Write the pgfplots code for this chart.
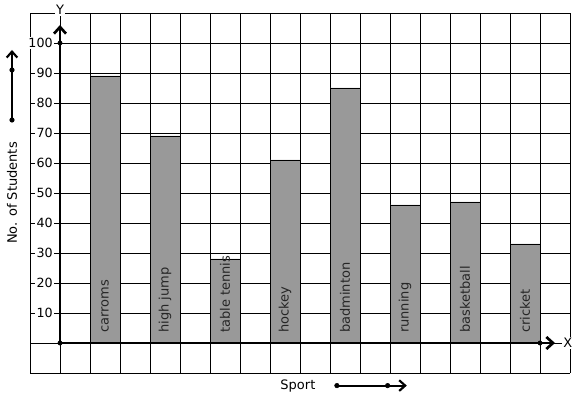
\documentclass[border=0pt]{standalone}
\usepackage{pgfplots}
\pgfplotsset{compat=1.18}
\usepackage{fontspec}
\setmainfont{DejaVu Sans}
\usetikzlibrary{arrows.meta}
\definecolor{barg}{RGB}{153,153,153}
\tikzset{blab/.style={rotate=90, anchor=west, inner sep=0pt, text=black!85, font=\fontsize{9.75}{11}\selectfont}}
\begin{document}
\begin{tikzpicture}
\begin{axis}[
  scale only axis, width=432.75pt, height=299.25pt,
  xmin=-2, xmax=17.2333, ymin=-18.6667, ymax=114.3333,
  axis lines=none, clip=false,
]
\path (rel axis cs:0,0) rectangle (rel axis cs:1,1);
% grid
\pgfplotsinvokeforeach{-1,0,...,17}{\draw[line width=0.6pt] (axis cs:#1,-10) -- (axis cs:#1,110);}
\pgfplotsinvokeforeach{-10,0,...,110}{\draw[line width=0.6pt] (axis cs:-1,#1) -- (axis cs:17,#1);}
% bars
\addplot[ybar, bar width=1, fill=barg, draw=black, line width=0.6pt] coordinates {(1.5,89) (3.5,69) (5.5,28) (7.5,61) (9.5,85) (11.5,46) (13.5,47) (15.5,33)};
% bar labels
\node[blab] at (axis cs:1.5,3.3) {carroms};
\node[blab] at (axis cs:3.5,3.3) {high jump};
\node[blab] at (axis cs:5.5,3.3) {table tennis};
\node[blab] at (axis cs:7.5,3.3) {hockey};
\node[blab] at (axis cs:9.5,3.3) {badminton};
\node[blab] at (axis cs:11.5,3.3) {running};
\node[blab] at (axis cs:13.5,3.3) {basketball};
\node[blab] at (axis cs:15.5,3.3) {cricket};
% tick labels
\pgfplotsinvokeforeach{10,20,...,100}{\node[anchor=east, fill=white, inner sep=0.8pt, font=\fontsize{9.5}{11}\selectfont] at (axis cs:-0.2,#1) {#1};}
% axes
\draw[line width=2pt, -{Straight Barb[length=5pt,width=9pt]}] (axis cs:0,0) -- (axis cs:0,106);
\draw[line width=2pt, -{Straight Barb[length=5pt,width=9pt]}] (axis cs:0,0) -- (axis cs:16.5,0);
\addplot[only marks, mark=*, mark size=1.6pt, black] coordinates {(0,0) (0,100) (16,0)};
\node[fill=white, inner sep=1pt, font=\fontsize{9.75}{11}\selectfont] at (axis cs:0,111) {Y};
\node[fill=white, inner sep=1pt, font=\fontsize{9.75}{11}\selectfont] at (axis cs:16.93,0) {X};
% left decoration
\draw[line width=1.6pt, -{Straight Barb[length=4.5pt,width=8pt]}] (axis cs:-1.6,74.33) -- (axis cs:-1.6,97.67);
\addplot[only marks, mark=*, mark size=1.7pt, black] coordinates {(-1.6,74.33) (-1.6,91)};
\node[rotate=90, font=\fontsize{9.75}{11}\selectfont] at (axis cs:-1.6,50) {No. of Students};
% bottom decoration
\node[font=\fontsize{9.75}{11}\selectfont] at (axis cs:7.93,-14.2) {Sport};
\draw[line width=1.6pt, -{Straight Barb[length=4.5pt,width=8pt]}] (axis cs:9.23,-14.2) -- (axis cs:11.56,-14.2);
\addplot[only marks, mark=*, mark size=1.7pt, black] coordinates {(9.23,-14.2) (10.92,-14.2)};
\end{axis}
\end{tikzpicture}
\end{document}
